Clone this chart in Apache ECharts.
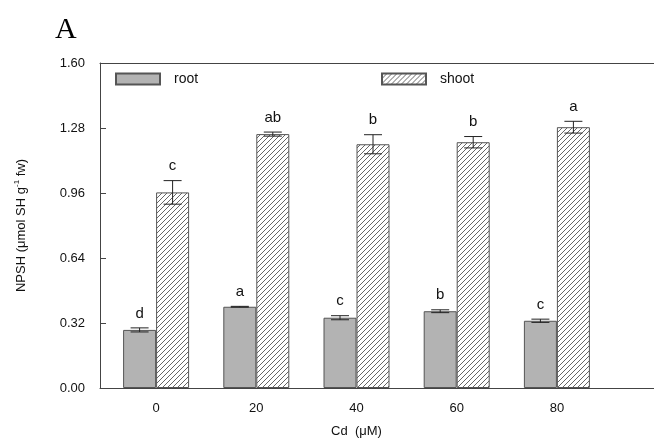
<!DOCTYPE html>
<html>
<head>
<meta charset="utf-8">
<script src="https://cdn.jsdelivr.net/npm/echarts@6/dist/echarts.min.js"></script>
<style>html,body{margin:0;padding:0;background:#fff}#c{width:654px;height:439px}</style>
</head>
<body>
<div id="c"></div>
<script>
const categories = ['0', '20', '40', '60', '80'];
const rootValues = [0.286, 0.400, 0.346, 0.378, 0.331];
const rootErrors = [0.010, 0.002, 0.010, 0.007, 0.008];
const rootLetters = ['d', 'a', 'c', 'b', 'c'];
const shootValues = [0.963, 1.250, 1.200, 1.210, 1.284];
const shootErrors = [0.058, 0.010, 0.047, 0.028, 0.029];
const shootLetters = ['c', 'ab', 'b', 'b', 'a'];
const yTicks = [0, 0.32, 0.64, 0.96, 1.28, 1.60];

function hatch() {
  const s = 5;
  const c = document.createElement('canvas');
  c.width = s; c.height = s;
  const g = c.getContext('2d');
  g.fillStyle = '#fff'; g.fillRect(0, 0, s, s);
  g.strokeStyle = '#555'; g.lineWidth = 0.9;
  g.beginPath();
  g.moveTo(-1, s + 1); g.lineTo(s + 1, -1);
  g.moveTo(-1, 1); g.lineTo(1, -1);
  g.moveTo(s - 1, s + 1); g.lineTo(s + 1, s - 1);
  g.stroke();
  return c;
}
const hatchPattern = { image: hatch(), repeat: 'repeat' };

const axisColor = '#444';
const font = 'Liberation Sans, Arial, sans-serif';
const BW = 33;

function errRender(offset, errs, letters) {
  return function (params, api) {
    const i = api.value(0), v = api.value(1), e = errs[params.dataIndex];
    const top = api.coord([i, v + e]);
    const bot = api.coord([i, v - e]);
    const x = top[0] + offset;
    const hw = 9;
    const st = { stroke: '#222', lineWidth: 1 };
    return {
      type: 'group',
      children: [
        { type: 'line', shape: { x1: x, y1: top[1], x2: x, y2: bot[1] }, style: st },
        { type: 'line', shape: { x1: x - hw, y1: top[1], x2: x + hw, y2: top[1] }, style: st },
        { type: 'line', shape: { x1: x - hw, y1: bot[1], x2: x + hw, y2: bot[1] }, style: st },
        { type: 'text', x: x, y: top[1] - 7, style: { text: letters[params.dataIndex], fill: '#111', font: '15px ' + font, textAlign: 'center', textVerticalAlign: 'bottom' } }
      ]
    };
  };
}

const chart = echarts.init(document.getElementById('c'), null, { renderer: 'canvas' });
chart.setOption({
  animation: false,
  backgroundColor: '#fff',
  title: { text: 'A', left: 50, top: 10, textStyle: { fontFamily: 'Liberation Serif, serif', fontSize: 30, fontWeight: 'normal', color: '#000' } },
  legend: [
    { data: ['root'], left: 115, top: 72, padding: 0, icon: 'rect', itemWidth: 44, itemHeight: 11, textStyle: { fontFamily: font, fontSize: 14, color: '#111', padding: [0, 0, 0, 9] } },
    { data: ['shoot'], left: 381, top: 72, padding: 0, icon: 'rect', itemWidth: 44, itemHeight: 11, textStyle: { fontFamily: font, fontSize: 14, color: '#111', padding: [0, 0, 0, 9] } }
  ],
  grid: [
    { left: 100, right: 0, top: 63, bottom: 51, outerBoundsMode: 'none', containLabel: false },
    { left: 106, width: 501, top: 63, bottom: 51, outerBoundsMode: 'none', containLabel: false }
  ],
  xAxis: [
    { gridIndex: 0, type: 'value', min: 0, max: 1, axisLine: { show: true, lineStyle: { color: axisColor, width: 1 } }, axisTick: { show: false }, axisLabel: { show: false }, splitLine: { show: false } },
    { gridIndex: 0, type: 'value', position: 'top', min: 0, max: 1, axisLine: { show: true, lineStyle: { color: axisColor, width: 1 } }, axisTick: { show: false }, axisLabel: { show: false }, splitLine: { show: false } },
    { gridIndex: 1, type: 'category', data: categories, axisLine: { show: false }, axisTick: { show: false },
      axisLabel: { fontFamily: font, fontSize: 13, color: '#111', margin: 14 },
      name: 'Cd  (μM)', nameLocation: 'middle', nameGap: 37, nameTextStyle: { fontFamily: font, fontSize: 13, color: '#111' } }
  ],
  yAxis: [
    { gridIndex: 0, type: 'value', min: 0, max: 1.6, interval: 0.32,
      axisLine: { show: true, lineStyle: { color: axisColor, width: 1 } },
      axisTick: { show: true, inside: true, length: 6, lineStyle: { color: axisColor } },
      axisLabel: { fontFamily: font, fontSize: 13, color: '#111', margin: 15, formatter: v => v.toFixed(2) },
      splitLine: { show: false },
      name: 'NPSH (μmol SH g{sup|-1} fw)', nameLocation: 'middle', nameGap: 71, nameRotate: 90,
      nameTextStyle: { fontFamily: font, fontSize: 13, color: '#111', rich: { sup: { fontFamily: font, fontSize: 8, color: '#111', verticalAlign: 'top', padding: [0, 0, 8, 0] } } } },
    { gridIndex: 1, type: 'value', min: 0, max: 1.6, interval: 0.32, show: false }
  ],
  series: [
    { name: 'root', type: 'bar', xAxisIndex: 2, yAxisIndex: 1, data: rootValues, barWidth: BW, barGap: '0%',
      itemStyle: { color: '#b3b3b3', borderColor: '#555', borderWidth: 1 } },
    { name: 'shoot', type: 'bar', xAxisIndex: 2, yAxisIndex: 1, data: shootValues, barWidth: BW, barGap: '0%',
      itemStyle: { color: hatchPattern, borderColor: '#555', borderWidth: 1 } },
    { type: 'custom', xAxisIndex: 2, yAxisIndex: 1, data: rootValues.map((v, i) => [i, v]), renderItem: errRender(-BW / 2, rootErrors, rootLetters), z: 10 },
    { type: 'custom', xAxisIndex: 2, yAxisIndex: 1, data: shootValues.map((v, i) => [i, v]), renderItem: errRender(BW / 2, shootErrors, shootLetters), z: 10 }
  ]
});
</script>
</body>
</html>
